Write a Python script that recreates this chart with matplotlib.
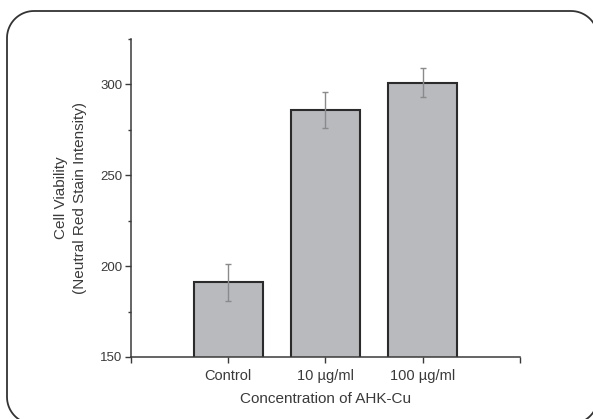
import numpy as np
import matplotlib
matplotlib.use("Agg")
import matplotlib.pyplot as plt
from matplotlib.lines import Line2D
from matplotlib.ticker import MultipleLocator

plt.rcParams['font.family'] = ['Liberation Sans', 'DejaVu Sans']

groups = ['Control', '10 \u00b5g/ml', '100 \u00b5g/ml']
viability = [191, 286, 301]
errors = [10, 10, 8]

ink = '#3a3a3a'
W, H = 593, 419

fig = plt.figure(figsize=(W / 100, H / 100), dpi=100)
ax = fig.add_axes([0.2209, 0.148, 0.656, 0.759])

x = np.arange(1, len(groups) + 1)
ax.bar(x, viability, width=0.71, color='#b9babe', edgecolor='#2b2b2b',
       linewidth=1.5, zorder=2)
ax.errorbar(x, viability, yerr=errors, fmt='none', ecolor='#8a8a8a',
            elinewidth=1.0, capsize=2.5, capthick=1.0, zorder=3)

ax.set_xlim(0, 4)
ax.set_ylim(150, 325)
ax.set_xticks(np.arange(0, 5))
ax.set_xticklabels([''] + groups + [''], fontsize=10.5, color=ink)
ax.yaxis.set_major_locator(MultipleLocator(50))
ax.yaxis.set_minor_locator(MultipleLocator(25))
ax.tick_params(axis='y', labelsize=9.5, colors=ink, length=4, width=1, pad=2)
ax.tick_params(axis='y', which='minor', length=2.5, width=1, colors=ink)
ax.tick_params(axis='x', length=4, width=1, colors=ink, pad=5)

for s in ['top', 'right']:
    ax.spines[s].set_visible(False)
for s in ['left', 'bottom']:
    ax.spines[s].set_color(ink)
    ax.spines[s].set_linewidth(1.1)

ax.set_xlabel('Concentration of AHK-Cu', fontsize=11, color=ink, labelpad=6)
ax.set_ylabel('Cell Viability\n(Neutral Red Stain Intensity)', fontsize=11,
              color=ink, labelpad=10, linespacing=1.4)

# rounded frame, in pixels measured from the top; it runs off right and bottom
left, right, top, bottom, r = 7, 598, 11, 424, 27
t = np.linspace(0, np.pi / 2, 20)
px, py = [], []
for cx, cy, a0 in [(left + r, bottom - r, np.pi / 2),
                   (left + r, top + r, np.pi),
                   (right - r, top + r, 1.5 * np.pi),
                   (right - r, bottom - r, 0)]:
    px += list(cx + r * np.cos(a0 + t))
    py += list(cy + r * np.sin(a0 + t))
px.append(px[0])
py.append(py[0])
fig.add_artist(Line2D(np.array(px) / 100, (H - np.array(py)) / 100,
                      transform=fig.dpi_scale_trans, color='#333333',
                      linewidth=1.3, clip_on=False))

fig.savefig('out.png', dpi=100)
